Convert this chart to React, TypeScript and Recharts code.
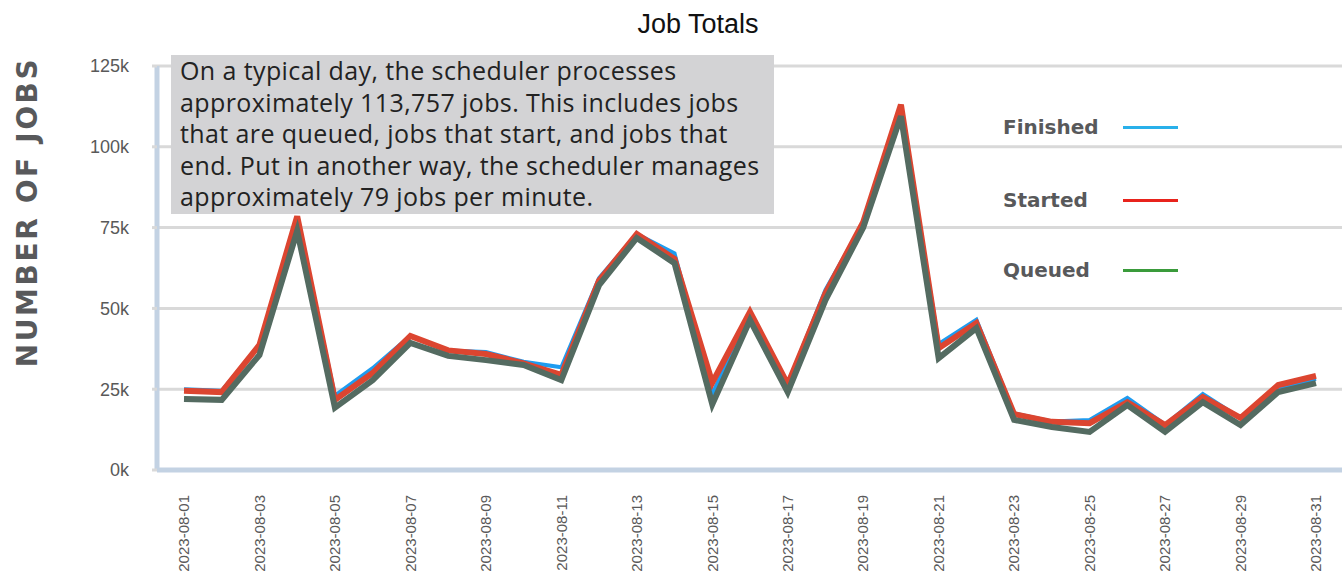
import * as React from "react"
import {
  LineChart,
  Line,
  XAxis,
  YAxis,
  CartesianGrid,
} from "recharts"

const dates = [
  "2023-08-01", "2023-08-02", "2023-08-03", "2023-08-04", "2023-08-05", "2023-08-06",
  "2023-08-07", "2023-08-08", "2023-08-09", "2023-08-10", "2023-08-11", "2023-08-12",
  "2023-08-13", "2023-08-14", "2023-08-15", "2023-08-16", "2023-08-17", "2023-08-18",
  "2023-08-19", "2023-08-20", "2023-08-21", "2023-08-22", "2023-08-23", "2023-08-24",
  "2023-08-25", "2023-08-26", "2023-08-27", "2023-08-28", "2023-08-29", "2023-08-30",
  "2023-08-31",
]

const finished = [
  25000, 24500, 38500, 77500, 23000, 31500, 41500, 37000, 36500, 33500, 31800, 59400,
  73000, 67000, 23500, 48500, 26500, 55700, 76500, 112000, 39000, 46500, 17500, 15000,
  15500, 22300, 14000, 23500, 16000, 25400, 28200,
]

const started = [
  24500, 24100, 38700, 78500, 21700, 30000, 41500, 37000, 35900, 33000, 29400, 58600,
  73000, 65300, 27000, 48900, 26500, 54700, 76700, 113000, 37700, 45500, 17300, 14900,
  14500, 21000, 13900, 22600, 16100, 26300, 29100,
]

const queued = [
  22000, 21700, 35600, 74000, 19300, 27800, 39300, 35300, 34000, 32500, 27800, 57200,
  71800, 64000, 20300, 46400, 24100, 52600, 75000, 109500, 34600, 43900, 15500, 13300,
  11800, 20100, 11800, 21000, 13900, 24100, 26900,
]

const yTicks = [0, 25000, 50000, 75000, 100000, 125000]

const legendItems = [
  { name: "Finished", color: "#29b0ea", top: 113 },
  { name: "Started", color: "#e8231c", top: 186 },
  { name: "Queued", color: "#3a9b3b", top: 256 },
]

const data = dates.map((d, i) => ({
  date: d,
  finished: finished[i],
  started: started[i],
  queued: queued[i],
}))

const DateTick = (props: any) => {
  const { x, y, payload } = props
  return (
    <text
      x={x}
      y={y + 17}
      transform={`rotate(-90, ${x}, ${y + 17})`}
      textAnchor="end"
      dy="0.35em"
      fill="#595959"
      fontSize={15}
      fontFamily="'Liberation Sans', Arial, sans-serif"
    >
      {payload.value}
    </text>
  )
}

const ValueTick = (props: any) => {
  const { x, y, payload } = props
  return (
    <text
      x={x - 21}
      y={y}
      textAnchor="end"
      dy="0.35em"
      fill="#595959"
      fontSize={18}
      fontFamily="'Liberation Sans', Arial, sans-serif"
    >
      {`${payload.value / 1000}k`}
    </text>
  )
}

export default function App() {
  return (
    <div style={{ position: "absolute", left: 0, top: 0, width: 1342, height: 573, background: "#fff" }}>
      <LineChart
        width={1342}
        height={573}
        data={data}
        margin={{ top: 66, right: 0, bottom: 0, left: 0 }}
      >
        <CartesianGrid vertical={false} stroke="#d9d9d9" strokeWidth={3} />
        <XAxis
          dataKey="date"
          interval={1}
          height={103}
          padding={{ left: 27, right: 26 }}
          axisLine={{ stroke: "#c3d2e3", strokeWidth: 5 }}
          tickLine={false}
          tick={<DateTick />}
        />
        <YAxis
          width={157}
          domain={[0, 125000]}
          ticks={yTicks}
          axisLine={{ stroke: "#c3d2e3", strokeWidth: 5 }}
          tickLine={{ stroke: "#d9d9d9", strokeWidth: 3 }}
          tickSize={5}
          tick={<ValueTick />}
        />
        <Line
          dataKey="finished"
          name="Finished"
          stroke="#1e9cf0"
          strokeWidth={4}
          dot={false}
          isAnimationActive={false}
        />
        <Line
          dataKey="started"
          name="Started"
          stroke="#dc4530"
          strokeWidth={6}
          dot={false}
          isAnimationActive={false}
        />
        <Line
          dataKey="queued"
          name="Queued"
          stroke="#546b61"
          strokeWidth={6}
          dot={false}
          isAnimationActive={false}
        />
      </LineChart>

      {/* legend */}
      {legendItems.map((item) => (
        <div
          key={item.name}
          style={{
            position: "absolute",
            left: 1003,
            top: item.top,
            height: 28,
            display: "flex",
            alignItems: "center",
            fontFamily: "'DejaVu Sans', sans-serif",
            fontWeight: 700,
            fontSize: 20,
            color: "#58595b",
          }}
        >
          <span style={{ width: 120, display: "inline-block" }}>{item.name}</span>
          <span style={{ display: "inline-block", width: 55, height: 3, background: item.color }} />
        </div>
      ))}

      <div
        style={{
          position: "absolute",
          left: 0,
          top: 8,
          width: 1396,
          textAlign: "center",
          fontFamily: "'Liberation Sans', Arial, sans-serif",
          fontSize: 27,
          lineHeight: "32px",
          color: "#111",
        }}
      >
        Job Totals
      </div>

      <div
        style={{
          position: "absolute",
          left: 27,
          top: 212,
          transform: "translate(-50%, -50%) rotate(-90deg)",
          whiteSpace: "nowrap",
          fontFamily: "'DejaVu Sans', sans-serif",
          fontWeight: 700,
          fontSize: 28,
          letterSpacing: 2.6,
          color: "#58595b",
        }}
      >
        NUMBER OF JOBS
      </div>

      <div
        style={{
          position: "absolute",
          left: 171,
          top: 55,
          width: 594,
          height: 159,
          paddingLeft: 9,
          background: "#d3d3d5",
          fontFamily: "'Open Sans', sans-serif",
          fontSize: 25,
          letterSpacing: 0.4,
          lineHeight: "31.5px",
          color: "#222",
          whiteSpace: "nowrap",
        }}
      >
        <div>On a typical day, the scheduler processes</div>
        <div>approximately 113,757 jobs. This includes jobs</div>
        <div>that are queued, jobs that start, and jobs that</div>
        <div>end. Put in another way, the scheduler manages</div>
        <div>approximately 79 jobs per minute.</div>
      </div>
    </div>
  )
}
